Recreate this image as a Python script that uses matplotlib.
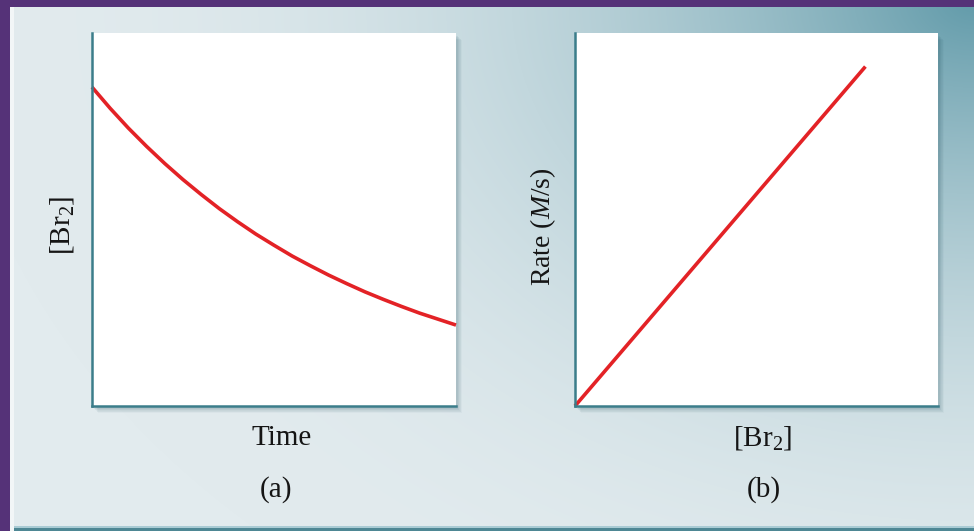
import numpy as np
import matplotlib
matplotlib.use("Agg")
import matplotlib.pyplot as plt
from matplotlib.patches import Rectangle

plt.rcParams['font.family'] = ['Liberation Serif', 'DejaVu Serif']
plt.rcParams['mathtext.fontset'] = 'custom'
plt.rcParams['mathtext.rm'] = 'Liberation Serif'
plt.rcParams['mathtext.it'] = 'Liberation Serif:italic'

# Panel (a): bromine concentration falling with time
time = [0.00, 0.05, 0.10, 0.15, 0.20, 0.25, 0.30, 0.35, 0.40, 0.45, 0.50,
        0.55, 0.60, 0.65, 0.70, 0.75, 0.80, 0.85, 0.90, 0.95, 1.00]
br2_conc = [0.855, 0.798, 0.745, 0.696, 0.650, 0.607, 0.567, 0.529, 0.494, 0.461, 0.431,
            0.402, 0.376, 0.351, 0.328, 0.306, 0.286, 0.267, 0.249, 0.233, 0.217]

# Panel (b): rate proportional to [Br2]
br2_b = [0.0, 0.80]
rate_b = [0.0, 0.91]

xlabels = ['Time', '[Br$_2$]']
ylabels = ['[Br$_2$]', 'Rate ($\\mathit{M}$/s)']
panel_tags = ['(a)', '(b)']

W, H = 974, 531
fig = plt.figure(figsize=(W / 100, H / 100), dpi=100)

# backdrop: light blue-grey wash darkening toward the upper right corner
bg = fig.add_axes([0, 0, 1, 1], zorder=0)
yy, xx = np.mgrid[0:H, 0:W]
u = (W - xx) / W
v = yy / H
d = np.sqrt(u ** 2 + (0.75 * v) ** 2)
t = np.clip(1 - d / 1.05, 0, 1) ** 2.3
light = np.array([226, 235, 238]) / 255
dark = np.array([98, 155, 170]) / 255
img = light[None, None, :] * (1 - t[..., None]) + dark[None, None, :] * t[..., None]
bg.imshow(img, extent=[0, W, H, 0], aspect='auto', interpolation='bilinear')
bg.set_xlim(0, W)
bg.set_ylim(H, 0)
bg.axis('off')

purple = '#553278'
bg.add_patch(Rectangle((0, 0), W, 7, color=purple, lw=0))
bg.add_patch(Rectangle((0, 0), 10, H, color=purple, lw=0))
bg.add_patch(Rectangle((10, 7), 4, H - 7, color='#f2f6f7', lw=0))
bg.add_patch(Rectangle((14, 526), W, 2, color='#a9cbd4', lw=0))
bg.add_patch(Rectangle((14, 528), W, 3, color='#4e8794', lw=0))

# panel boxes (pixels): left, top, right, bottom
boxes = [(92, 33, 456, 406), (575, 33, 938, 406)]

# soft drop shadows behind the panels
for (l, tp, r, b) in boxes:
    for k in range(1, 9):
        bg.add_patch(Rectangle((l + 1 + k * 0.6, tp + 2 + k * 0.6), r - l, b - tp,
                               color='#2c5866', alpha=0.035, lw=0, zorder=2))

axes = []
for (l, tp, r, b) in boxes:
    ax = fig.add_axes([l / W, 1 - b / H, (r - l) / W, (b - tp) / H], zorder=1)
    ax.set_facecolor('white')
    for s in ['top', 'right']:
        ax.spines[s].set_visible(False)
    for s in ['left', 'bottom']:
        ax.spines[s].set_color('#3b7d8a')
        ax.spines[s].set_linewidth(1.8)
    ax.set_xticks([])
    ax.set_yticks([])
    ax.set_xlim(0, 1)
    ax.set_ylim(0, 1)
    axes.append(ax)

red = '#e32226'
axes[0].plot(time, br2_conc, color=red, lw=2.6, solid_capstyle='butt',
             solid_joinstyle='round', clip_on=False)
axes[1].plot(br2_b, rate_b, color=red, lw=2.6, solid_capstyle='butt', clip_on=False)

txt = '#151515'
# label placement in axes fractions: (xlabel x, ylabel x, ylabel y, tag x, ylabel size)
placement = [(0.522, -0.083, 0.485, 0.505, 21),
             (0.518, -0.088, 0.48, 0.520, 20)]
for ax, xl, yl, tag, (xlx, ylx, yly, tgx, yfs) in zip(axes, xlabels, ylabels,
                                                       panel_tags, placement):
    ax.text(xlx, -0.105, xl, transform=ax.transAxes, ha='center', va='baseline',
            fontsize=21, color=txt)
    ax.text(ylx, yly, yl, transform=ax.transAxes, ha='center', va='center',
            rotation=90, fontsize=yfs, color=txt)
    ax.text(tgx, -0.225, tag, transform=ax.transAxes, ha='center', va='center',
            fontsize=21, color=txt)

fig.savefig('out.png', dpi=100)
